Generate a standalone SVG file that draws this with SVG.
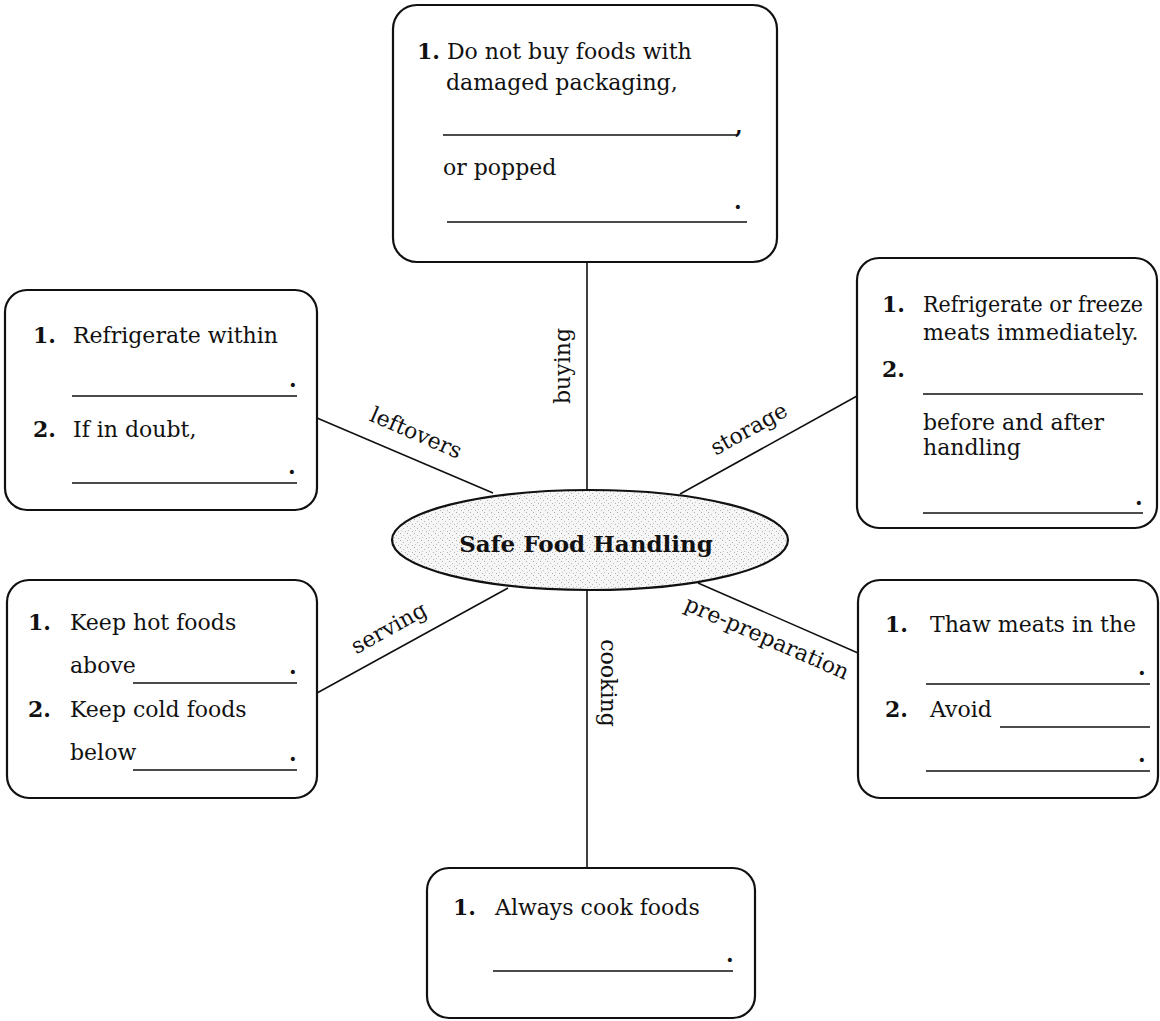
<svg xmlns="http://www.w3.org/2000/svg" width="1160" height="1021" viewBox="0 0 1160 1021">
<defs>
<pattern id="stipple" width="7" height="7" patternUnits="userSpaceOnUse">
<rect width="7" height="7" fill="#f6f6f6"/>
<rect x="1" y="1" width="1" height="1" fill="#aaa"/>
<rect x="4" y="3" width="1" height="1" fill="#bbb"/>
<rect x="2" y="5" width="1" height="1" fill="#c4c4c4"/>
<rect x="6" y="6" width="1" height="1" fill="#b4b4b4"/>
</pattern>
</defs>
<style>
.box{fill:#fff;stroke:#111;stroke-width:2.2}
.conn{stroke:#111;stroke-width:1.6;fill:none}
.ul{stroke:#111;stroke-width:1.6}
text{font-family:"DejaVu Serif","Liberation Serif",serif;font-size:22px;fill:#111}
.num{font-weight:bold}
.dot{font-weight:bold}
.lbl{text-anchor:middle}
.title{font-weight:bold;font-size:23px;text-anchor:middle}
</style>
<rect width="1160" height="1021" fill="#fff"/>
<g id="connectors">
<line class="conn" x1="587" y1="262" x2="587" y2="491"/>
<line class="conn" x1="317" y1="418" x2="493" y2="493"/>
<line class="conn" x1="857" y1="396" x2="680" y2="494"/>
<line class="conn" x1="317" y1="693" x2="508" y2="588"/>
<line class="conn" x1="698" y1="583" x2="858" y2="653"/>
<line class="conn" x1="587" y1="590" x2="587" y2="868"/>
<text class="lbl" transform="translate(565,366) rotate(-90)" y="5">buying</text>
<text class="lbl" transform="translate(415,435) rotate(23.5)" y="5">leftovers</text>
<text class="lbl" transform="translate(750,431) rotate(-29)" y="5">storage</text>
<text class="lbl" transform="translate(390,630) rotate(-29)" y="5">serving</text>
<text class="lbl" transform="translate(766,640) rotate(23.5)" y="5">pre-preparation</text>
<text class="lbl" transform="translate(606,683) rotate(90)" y="5">cooking</text>
</g>
<g id="center">
<ellipse cx="590" cy="540" rx="198" ry="50" fill="url(#stipple)" stroke="#111" stroke-width="2.2"/>
<text class="title" x="586" y="552">Safe Food Handling</text>
</g>
<g id="buying-box">
<rect class="box" x="393" y="5" width="384" height="257" rx="24"/>
<text x="417" y="59"><tspan class="num">1.</tspan> Do not buy foods with</text>
<text x="446" y="90">damaged packaging,</text>
<line class="ul" x1="443" y1="135" x2="737" y2="135"/>
<text class="dot" x="735" y="134">,</text>
<text x="443" y="175">or popped</text>
<line class="ul" x1="447" y1="222" x2="747" y2="222"/>
<text class="dot" x="734" y="209">.</text>
</g>
<g id="leftovers-box">
<rect class="box" x="5" y="290" width="312" height="220" rx="22"/>
<text class="num" x="33" y="343">1.</text>
<text x="73" y="343">Refrigerate within</text>
<line class="ul" x1="72" y1="396" x2="297" y2="396"/>
<text class="dot" x="289" y="387">.</text>
<text class="num" x="33" y="437">2.</text>
<text x="73" y="437">If in doubt,</text>
<line class="ul" x1="72" y1="483" x2="297" y2="483"/>
<text class="dot" x="288" y="474">.</text>
</g>
<g id="storage-box">
<rect class="box" x="857" y="258" width="300" height="270" rx="22"/>
<text class="num" x="882" y="312">1.</text>
<text x="923" y="312" textLength="220" lengthAdjust="spacingAndGlyphs">Refrigerate or freeze</text>
<text x="923" y="340">meats immediately.</text>
<text class="num" x="882" y="377">2.</text>
<line class="ul" x1="923" y1="394" x2="1143" y2="394"/>
<text x="923" y="430">before and after</text>
<text x="923" y="455">handling</text>
<line class="ul" x1="923" y1="513" x2="1143" y2="513"/>
<text class="dot" x="1135" y="505">.</text>
</g>
<g id="serving-box">
<rect class="box" x="7" y="580" width="310" height="218" rx="22"/>
<text class="num" x="28" y="630">1.</text>
<text x="70" y="630">Keep hot foods</text>
<text x="70" y="673">above</text>
<line class="ul" x1="133" y1="683" x2="297" y2="683"/>
<text class="dot" x="289" y="674">.</text>
<text class="num" x="28" y="717">2.</text>
<text x="70" y="717">Keep cold foods</text>
<text x="70" y="760">below</text>
<line class="ul" x1="133" y1="770" x2="297" y2="770"/>
<text class="dot" x="289" y="761">.</text>
</g>
<g id="preparation-box">
<rect class="box" x="858" y="580" width="300" height="218" rx="22"/>
<text class="num" x="885" y="632">1.</text>
<text x="930" y="632">Thaw meats in the</text>
<line class="ul" x1="926" y1="684" x2="1150" y2="684"/>
<text class="dot" x="1138" y="675">.</text>
<text class="num" x="885" y="717">2.</text>
<text x="930" y="717">Avoid</text>
<line class="ul" x1="1000" y1="727" x2="1150" y2="727"/>
<line class="ul" x1="926" y1="771" x2="1150" y2="771"/>
<text class="dot" x="1138" y="762">.</text>
</g>
<g id="cooking-box">
<rect class="box" x="427" y="868" width="328" height="150" rx="22"/>
<text class="num" x="453" y="915">1.</text>
<text x="495" y="915">Always cook foods</text>
<line class="ul" x1="493" y1="971" x2="733" y2="971"/>
<text class="dot" x="726" y="962">.</text>
</g>
</svg>
